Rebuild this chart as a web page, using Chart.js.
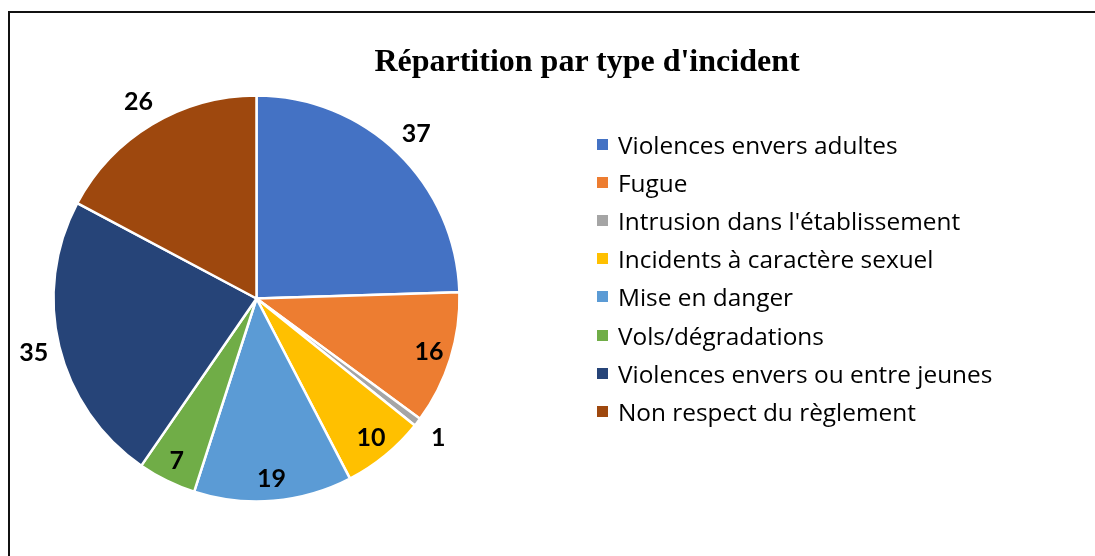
<!DOCTYPE html>
<html lang="fr">
<head>
<meta charset="utf-8">
<title>Répartition par type d'incident</title>
<script src="https://cdn.jsdelivr.net/npm/chart.js@4.4.1/dist/chart.umd.min.js"></script>
<style>
  html, body { margin: 0; padding: 0; background: #fff; }
  #wrap { position: relative; width: 1095px; height: 556px; overflow: hidden; }
  #frame { position: absolute; left: 8px; top: 11px; right: -10px; bottom: -10px;
    border-top: 2px solid #111; border-left: 2px solid #111; }
  #chart { position: absolute; left: 0; top: 0; }
  #title { position: absolute; left: 300px; width: 574px; top: 42px; text-align: center;
    font: bold 32px "Liberation Serif", "Times New Roman", serif; color: #000; }
  #legend { position: absolute; left: 597px; top: 125px; margin: 0; padding: 0; list-style: none;
    font: 24.4px "Open Sans", "Noto Sans", sans-serif; color: #000; }
  #legend li { height: 38.2px; display: flex; align-items: center; white-space: nowrap; }
  #legend .box { width: 11px; height: 11px; margin-right: 10px; flex: none; }
</style>
</head>
<body>
<div id="wrap">
  <div id="frame"></div>
  <canvas id="chart" width="1095" height="556"></canvas>
  <div id="title"></div>
  <ul id="legend"></ul>
</div>
<script>
// Données
const chartTitle = "Répartition par type d'incident";
const categories = [
  'Violences envers adultes',
  'Fugue',
  "Intrusion dans l'établissement",
  'Incidents à caractère sexuel',
  'Mise en danger',
  'Vols/dégradations',
  'Violences envers ou entre jeunes',
  'Non respect du règlement'
];
const counts = [37, 16, 1, 10, 19, 7, 35, 26];
const colors = ['#4472C4', '#ED7D31', '#A5A5A5', '#FFC000', '#5B9BD5', '#70AD47', '#264478', '#9E480E'];
// étiquette dans la part ou à l'extérieur (comme "ajustement optimal" d'Excel)
const labelPlacement = ['out', 'in', 'out', 'in', 'in', 'in', 'out', 'out'];

document.getElementById('title').textContent = chartTitle;
document.getElementById('legend').innerHTML = categories.map((c, i) =>
  `<li><span class="box" style="background:${colors[i]}"></span>${c}</li>`).join('');

const sliceLabels = {
  id: 'sliceLabels',
  afterDatasetsDraw(chart) {
    const { ctx } = chart;
    const meta = chart.getDatasetMeta(0);
    ctx.save();
    ctx.font = 'bold 25px Lato, "Noto Sans", sans-serif';
    ctx.fillStyle = '#000';
    ctx.textAlign = 'center';
    ctx.textBaseline = 'middle';
    meta.data.forEach((arc, i) => {
      const p = arc.getProps(['x', 'y', 'startAngle', 'endAngle', 'outerRadius'], true);
      const mid = (p.startAngle + p.endAngle) / 2;
      const r = p.outerRadius * (labelPlacement[i] === 'in' ? 0.89 : 1.13);
      ctx.fillText(String(counts[i]), p.x + Math.cos(mid) * r, p.y + Math.sin(mid) * r);
    });
    ctx.restore();
  }
};

new Chart(document.getElementById('chart'), {
  type: 'pie',
  data: {
    labels: categories,
    datasets: [{
      data: counts,
      backgroundColor: colors,
      borderColor: '#fff',
      borderWidth: 2.5,
      hoverOffset: 0
    }]
  },
  options: {
    responsive: false,
    animation: false,
    radius: 203,
    layout: { padding: { left: 44, right: 626, top: 73, bottom: 32 } },
    plugins: {
      legend: { display: false },
      title: { display: false },
      tooltip: { enabled: false }
    }
  },
  plugins: [sliceLabels]
});
</script>
</body>
</html>
